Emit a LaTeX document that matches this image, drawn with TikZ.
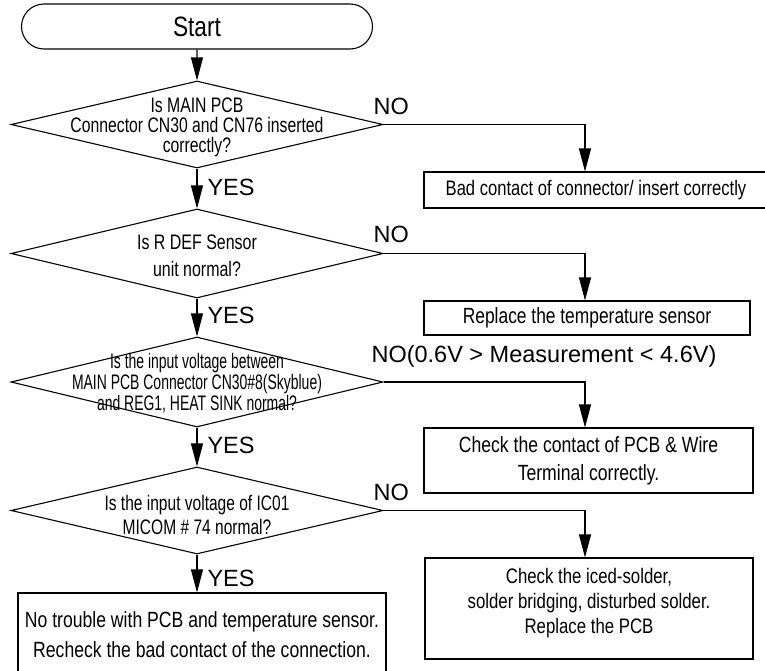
\documentclass[tikz,border=0pt]{standalone}
\usepackage{fontspec}
\setmainfont{Liberation Sans}
\newcommand{\cf}[3]{\fontspec[FakeStretch=#1]{Liberation Sans}\fontsize{#2}{#3}\selectfont}
\usetikzlibrary{shapes.geometric,shapes.misc,arrows.meta}
\begin{document}
\begin{tikzpicture}[x=1pt,y=-1pt,line width=1.1pt,
 dia/.style={draw,diamond,inner sep=0pt,minimum width=372pt},
 qtext/.style={align=center,inner sep=0pt},
 bx/.style={draw,rectangle,align=center,inner sep=0pt},
 lbl/.style={inner sep=0pt,anchor=west,font=\fontsize{23.5}{24}\selectfont},
 arr/.style={-{Triangle[length=23pt,width=12pt]}}]
\useasboundingbox (0,0) rectangle (765,670);
% start
\node[draw,rounded rectangle,minimum width=351pt,minimum height=45pt,inner sep=0pt,font=\cf{0.81}{28}{28}] (start) at (197,26.5) {Start};
% decisions
\node[dia,minimum height=87pt] (d1) at (197,124.5) {};
\node[qtext,font=\cf{0.75}{21}{20}] (q1) at (197,127) {Is MAIN PCB\\Connector CN30 and CN76 inserted\\correctly?};
\node[dia,minimum height=89pt] (d2) at (197,253.5) {};
\node[qtext,font=\cf{0.76}{21}{27}] (q2) at (197,256) {Is R DEF Sensor\\unit normal?};
\node[dia,minimum height=90pt] (d3) at (197,382) {};
\node[qtext,font=\cf{0.665}{21}{21}] (q3) at (197,383) {Is the input voltage between\\MAIN PCB Connector CN30\#8(Skyblue)\\and REG1, HEAT SINK normal?};
\node[dia,minimum height=87pt] (d4) at (197,510.5) {};
\node[qtext,font=\cf{0.74}{21}{24}] (q4) at (197,515) {Is the input voltage of IC01\\MICOM \# 74 normal?};
% boxes
\node[bx,minimum width=344pt,minimum height=36pt,font=\cf{0.79}{21}{21}] (b1) at (596,190) {Bad contact of connector/ insert correctly};
\node[bx,minimum width=326pt,minimum height=34pt,font=\cf{0.79}{22}{22}] (b2) at (587,318) {Replace the temperature sensor};
\node[bx,minimum width=329pt,minimum height=65pt,font=\cf{0.80}{22}{28}] (b3) at (588.5,460.5) {Check the contact of PCB \& Wire\\Terminal correctly.};
\node[bx,minimum width=328pt,minimum height=101pt] (b4) at (589,608.5) {};
\node[qtext,font=\cf{0.80}{21}{25}] (q5) at (589,603) {Check the iced-solder,\\solder bridging, disturbed solder.\\Replace the PCB};
\node[bx,minimum width=368pt,minimum height=84pt,font=\cf{0.80}{22}{30}] (b5) at (202,635) {No trouble with PCB and temperature sensor.\\Recheck the bad contact of the connection.};
% connectors
\coordinate (nx) at (585,0);
\draw[arr] (start) -- (d1);
\draw[arr] (d1) -- (d2);
\draw[arr] (d2) -- (d3);
\draw[arr] (d3) -- (d4);
\draw[arr] (d4.south) -- (d4.south |- b5.north);
\draw[arr] (d1.east) -| (nx |- b1.north);
\draw[arr] (d2.east) -| (nx |- b2.north);
\draw[arr] (d3.east) -| (nx |- b3.north);
\draw[arr] (d4.east) -| (nx |- b4.north);
% labels
\node[lbl] (y1) at (207,187) {YES};
\node[lbl] (y2) at (207,315) {YES};
\node[lbl] (y3) at (207,445) {YES};
\node[lbl] (y4) at (207,578) {YES};
\node[lbl] (n1) at (373,106) {NO};
\node[lbl] (n2) at (373,234) {NO};
\node[lbl] (n3) at (371,356) {NO(0.6V > Measurement < 4.6V)};
\node[lbl] (n4) at (373,492) {NO};
\end{tikzpicture}
\end{document}
